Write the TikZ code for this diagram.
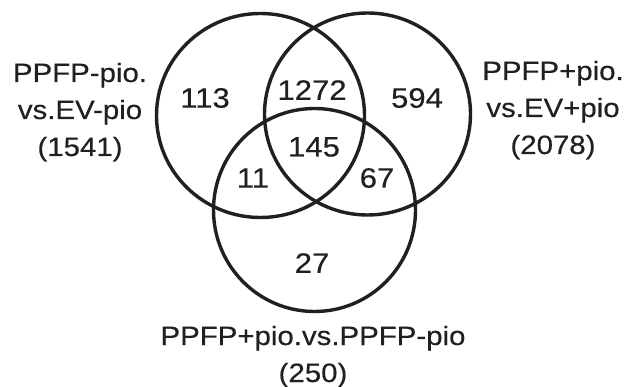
\documentclass[tikz,border=0pt]{standalone}
\usepackage{fontspec}
\setmainfont{Liberation Sans}[FakeBold=0.35]
\usepackage{graphicx}
\definecolor{ink}{HTML}{231F20}
\newcommand\sxtext[1]{\scalebox{1.11}[1]{#1}}
\newcommand\lbltext[1]{\sxtext{\begin{tabular}[t]{@{}c@{}}#1\end{tabular}}}
\begin{document}
\begin{tikzpicture}[x=1pt,y=-1pt,
  setcirc/.style={draw=ink,line width=3.4pt},
  count/.style={inner sep=0pt,text=ink,font=\fontsize{28}{30}\selectfont},
  setlabel/.style={inner sep=0pt,anchor=base,text=ink,font=\fontsize{26.5}{37}\selectfont}]
\useasboundingbox (0,0) rectangle (626,387);
\draw[setcirc] (260.5,115.5) ellipse [x radius=104, y radius=102];
\draw[setcirc] (367.5,114) ellipse [x radius=103, y radius=101];
\draw[setcirc] (314.5,210) ellipse [x radius=101, y radius=101.5];
\node[count] (n113) at (205,98) {\sxtext{113}};
\node[count] (n1272) at (312,90) {\sxtext{1272}};
\node[count] (n594) at (417,98) {\sxtext{594}};
\node[count] (n145) at (314,147) {\sxtext{145}};
\node[count] (n11) at (253,178) {\sxtext{11}};
\node[count] (n67) at (377,178) {\sxtext{67}};
\node[count] (n27) at (312,263) {\sxtext{27}};
\node[setlabel] (lblA) at (80,82) {\lbltext{PPFP-pio.\\vs.EV-pio\\(1541)}};
\node[setlabel] (lblB) at (553,80) {\lbltext{PPFP+pio.\\vs.EV+pio\\(2078)}};
\node[setlabel] (lblC) at (313,345) {\lbltext{PPFP+pio.vs.PPFP-pio\\(250)}};
\end{tikzpicture}
\end{document}
